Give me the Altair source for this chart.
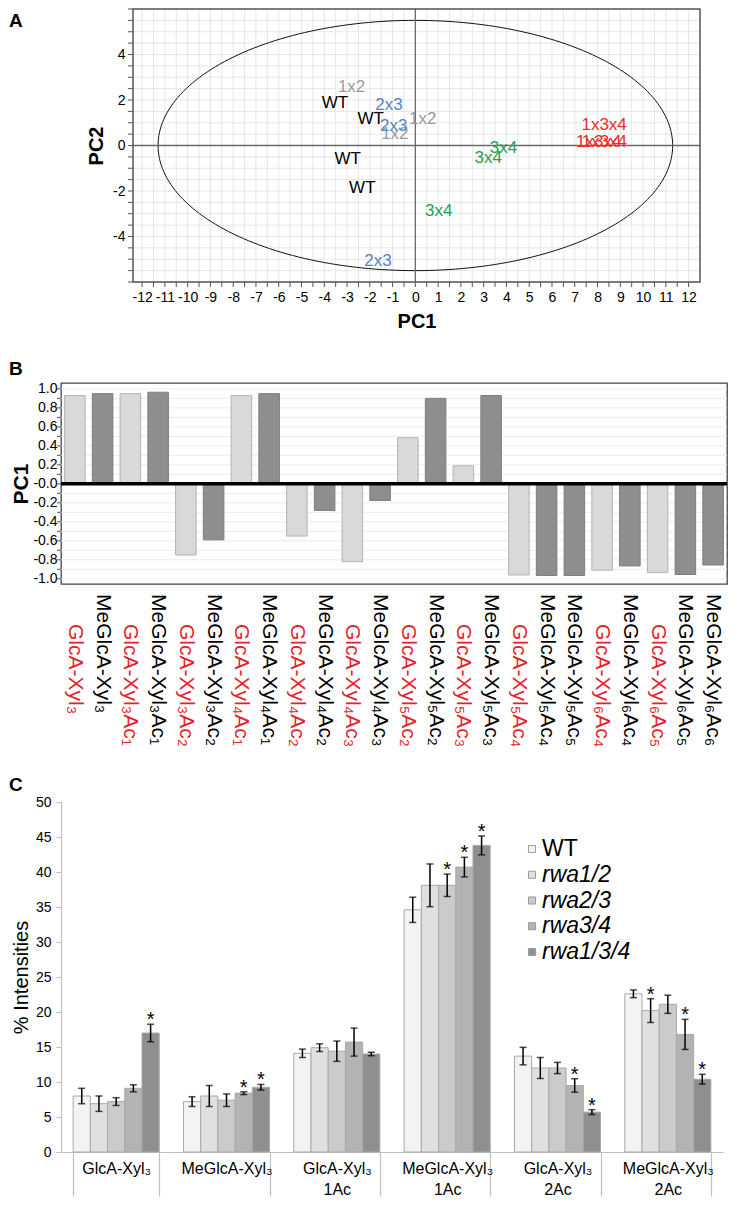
import altair as alt
import numpy as np
import pandas as pd

FONT = "Liberation Sans"

# ---------------- Panel A : PCA scores ----------------
a_labels = ["WT", "WT", "WT", "WT", "1x2", "1x2", "1x2", "2x3", "2x3", "2x3",
            "3x4", "3x4", "3x4", "1x3x4", "1x3x4", "1x3x4"]
a_pc1 = [-3.53, -1.96, -2.97, -2.33, -2.80, 0.32, -0.90, -1.16, -0.95, -1.64,
         3.87, 3.20, 1.03, 8.29, 8.05, 8.30]
a_pc2 = [1.86, 1.16, -0.58, -1.89, 2.55, 1.18, 0.52, 1.76, 0.84, -5.09,
         -0.13, -0.54, -2.87, 0.89, 0.15, 0.15]
a_groups = ["WT", "1x2", "2x3", "3x4", "1x3x4"]
a_colors = ["#000000", "#9b9b9b", "#4f86c6", "#22a24f", "#ee2b2b"]
ellipse_rx = 11.3
ellipse_ry = 5.5
a_xdom = [-12.4, 12.5]
a_ydom = [-6.0, 6.0]
a_xticks = [float(v) for v in np.arange(-12, 12.01, 0.5)]
a_yticks = [float(v) for v in np.arange(-6, 6.01, 0.5)]
a_xlabels = list(range(-12, 13))
a_ylabels = [-4, -2, 0, 2, 4]

# ---------------- Panel B : PC1 loadings ----------------
b_names = ["GlcA-Xyl₃", "MeGlcA-Xyl₃", "GlcA-Xyl₃Ac₁", "MeGlcA-Xyl₃Ac₁",
           "GlcA-Xyl₃Ac₂", "MeGlcA-Xyl₃Ac₂", "GlcA-Xyl₄Ac₁", "MeGlcA-Xyl₄Ac₁",
           "GlcA-Xyl₄Ac₂", "MeGlcA-Xyl₄Ac₂", "GlcA-Xyl₄Ac₃", "MeGlcA-Xyl₄Ac₃",
           "GlcA-Xyl₅Ac₂", "MeGlcA-Xyl₅Ac₂", "GlcA-Xyl₅Ac₃", "MeGlcA-Xyl₅Ac₃",
           "GlcA-Xyl₅Ac₄", "MeGlcA-Xyl₅Ac₄", "MeGlcA-Xyl₅Ac₅", "GlcA-Xyl₆Ac₄",
           "MeGlcA-Xyl₆Ac₄", "GlcA-Xyl₆Ac₅", "MeGlcA-Xyl₆Ac₅", "MeGlcA-Xyl₆Ac₆"]
b_loadings = [0.93, 0.95, 0.95, 0.965, -0.75, -0.59, 0.93, 0.95,
              -0.55, -0.28, -0.82, -0.175, 0.485, 0.90, 0.19, 0.93,
              -0.96, -0.965, -0.965, -0.91, -0.865, -0.935, -0.955, -0.855]
b_kinds = ["GlcA", "MeGlcA"]
b_fill = ["#d9d9d9", "#8e8e8e"]
b_stroke = ["#b3b3b3", "#7d7d7d"]
b_ticks = [round(float(v), 1) for v in np.arange(-1.0, 1.001, 0.1)]
b_labels = [round(float(v), 1) for v in np.arange(-1.0, 1.001, 0.2)]

# ---------------- Panel C : intensities ----------------
c_cats = ["GlcA-Xyl₃", "MeGlcA-Xyl₃", "GlcA-Xyl₃ 1Ac", "MeGlcA-Xyl₃ 1Ac",
          "GlcA-Xyl₃ 2Ac", "MeGlcA-Xyl₃ 2Ac"]
c_series = ["WT", "rwa1/2", "rwa2/3", "rwa3/4", "rwa1/3/4"]
c_fill = ["#f3f3f3", "#e0e0e0", "#cbcbcb", "#b3b3b3", "#8f8f8f"]
c_mean = {
    "WT":       [8.0, 7.2, 14.1, 34.6, 13.7, 22.6],
    "rwa1/2":   [6.9, 8.0, 14.9, 38.1, 12.0, 20.2],
    "rwa2/3":   [7.2, 7.4, 14.4, 38.1, 12.0, 21.1],
    "rwa3/4":   [9.1, 8.4, 15.7, 40.7, 9.5, 16.8],
    "rwa1/3/4": [17.0, 9.25, 14.0, 43.8, 5.7, 10.4],
}
c_err = {
    "WT":       [1.1, 0.7, 0.6, 1.8, 1.25, 0.55],
    "rwa1/2":   [1.1, 1.5, 0.55, 3.05, 1.5, 1.7],
    "rwa2/3":   [0.55, 0.9, 1.45, 1.6, 0.8, 1.3],
    "rwa3/4":   [0.5, 0.2, 2.0, 1.4, 0.95, 2.15],
    "rwa1/3/4": [1.25, 0.4, 0.25, 1.35, 0.35, 0.7],
}
c_star = {
    "WT":       [0, 0, 0, 0, 0, 0],
    "rwa1/2":   [0, 0, 0, 0, 0, 1],
    "rwa2/3":   [0, 0, 0, 1, 0, 0],
    "rwa3/4":   [0, 1, 0, 1, 1, 1],
    "rwa1/3/4": [1, 1, 0, 1, 1, 1],
}

# ======================= Panel A =======================
WA, HA = 639, 273      # full cell width (shared left edge with panels B, C)
A_LEFT = 72            # frame starts here inside the cell
a_df = pd.DataFrame({"pc1": a_pc1, "pc2": a_pc2, "grp": a_labels})
theta = np.linspace(0, 2 * np.pi, 241)
ell_df = pd.DataFrame({"pc1": ellipse_rx * np.cos(theta),
                       "pc2": ellipse_ry * np.sin(theta),
                       "i": np.arange(241)})
zero_df = pd.DataFrame({"v": [0.0]})
axdf = pd.DataFrame({"v": a_xticks})
aydf = pd.DataFrame({"v": a_yticks})

sxA = alt.Scale(domain=a_xdom, nice=False, zero=False, range=[A_LEFT, WA])
syA = alt.Scale(domain=a_ydom, nice=False, zero=False)
xA = alt.X("pc1:Q", scale=sxA,
           axis=alt.Axis(values=a_xlabels, tickCount=200, labelExpr="'' + datum.value",
                         labelFontSize=14, labelOverlap=False, labelFlush=False,
                         labelPadding=8, ticks=False, domain=False, grid=False,
                         title="PC1", titleFontSize=20, titleFontWeight="bold",
                         titlePadding=7))
yA = alt.Y("pc2:Q", scale=syA,
           axis=alt.Axis(values=a_ylabels, tickCount=200, labelExpr="'' + datum.value",
                         labelFontSize=14, labelOverlap=False, labelFlush=False,
                         labelPadding=8, ticks=False, domain=False, grid=False,
                         offset=-A_LEFT, title="PC2", titleFontSize=20,
                         titleFontWeight="bold", titlePadding=6))

gridXA = alt.Chart(axdf).mark_rule(color="#e6e6e6", strokeWidth=1).encode(x=alt.X("v:Q", scale=sxA))
gridYA = alt.Chart(aydf).mark_rule(color="#e6e6e6", strokeWidth=1).encode(
    y=alt.Y("v:Q", scale=syA), x=alt.datum(a_xdom[0]), x2=alt.datum(a_xdom[1]))
tickXA = alt.Chart(axdf).mark_rule(color="#555", strokeWidth=1).encode(
    x=alt.X("v:Q", scale=sxA), y=alt.value(HA), y2=alt.value(HA + 5))
tickYA = alt.Chart(aydf).mark_rule(color="#555", strokeWidth=1).encode(
    y=alt.Y("v:Q", scale=syA), x=alt.value(A_LEFT - 5), x2=alt.value(A_LEFT))
ell = alt.Chart(ell_df).mark_line(color="#111", strokeWidth=1).encode(x=xA, y=yA, order="i:Q")
rx0 = alt.Chart(zero_df).mark_rule(color="#6b6b6b", strokeWidth=1.3).encode(x=alt.X("v:Q", scale=sxA))
ry0 = alt.Chart(zero_df).mark_rule(color="#6b6b6b", strokeWidth=1.3).encode(
    y=alt.Y("v:Q", scale=syA), x=alt.datum(a_xdom[0]), x2=alt.datum(a_xdom[1]))
txtA = alt.Chart(a_df).mark_text(fontSize=17).encode(
    x="pc1:Q", y="pc2:Q", text="grp:N",
    color=alt.Color("grp:N", scale=alt.Scale(domain=a_groups, range=a_colors), legend=None))
frameA = alt.Chart(zero_df).mark_rect(fillOpacity=0, stroke="#555", strokeWidth=1.5).encode(
    x=alt.datum(a_xdom[0]), x2=alt.datum(a_xdom[1]), y=alt.datum(a_ydom[0]), y2=alt.datum(a_ydom[1]))
letA = alt.Chart(pd.DataFrame({"t": ["A"]})).mark_text(
    fontSize=19, fontWeight="bold", align="left", baseline="top").encode(
    text="t:N", x=alt.value(-52), y=alt.value(3))
panelA = alt.layer(gridXA, gridYA, tickXA, tickYA, ell, rx0, ry0, txtA, frameA, letA).properties(
    width=WA, height=HA, view=alt.ViewBackground(stroke=None))

# ======================= Panel B =======================
WB, HB = 666, 201
b_df = pd.DataFrame({"name": b_names, "pc1": b_loadings,
                     "kind": ["MeGlcA" if n.startswith("Me") else "GlcA" for n in b_names]})
bt_df = pd.DataFrame({"v": b_ticks})
syB = alt.Scale(domain=[-1.055, 1.062], nice=False, zero=False)
xB = alt.X("name:N", sort=b_names, scale=alt.Scale(paddingInner=0.26, paddingOuter=0.13), axis=None)
yB = alt.Y("pc1:Q", scale=syB,
           axis=alt.Axis(values=b_labels, tickCount=200,
                         labelExpr="abs(datum.value) < 1e-9 ? '-0.0' : ((datum.value < 0 ? '-' : '') + format(abs(datum.value), '.1f'))",
                         labelFontSize=14, labelOverlap=False, labelFlush=False, labelPadding=4,
                         ticks=False, domain=False, grid=False, title="PC1", titleFontSize=21,
                         titleFontWeight="bold", titlePadding=1))
gridB = alt.Chart(bt_df).mark_rule(color="#ececec", strokeWidth=1).encode(y=alt.Y("v:Q", scale=syB))
tickB = alt.Chart(bt_df).mark_rule(color="#555", strokeWidth=1).encode(
    y=alt.Y("v:Q", scale=syB), x=alt.value(-4), x2=alt.value(0))
barsB = alt.Chart(b_df).mark_bar(strokeWidth=1).encode(
    x=xB, y=yB,
    fill=alt.Fill("kind:N", scale=alt.Scale(domain=b_kinds, range=b_fill), legend=None),
    stroke=alt.Stroke("kind:N", scale=alt.Scale(domain=b_kinds, range=b_stroke), legend=None))
zeroB = alt.Chart(zero_df).mark_rule(color="#000", strokeWidth=3.5).encode(y=alt.Y("v:Q", scale=syB))
labBlack = alt.Chart(b_df).transform_filter("datum.kind === 'MeGlcA'").mark_text(
    angle=90, align="left", baseline="middle", fontSize=21, color="#000").encode(
    x=alt.X("name:N", sort=b_names), text="name:N", y=alt.value(HB + 10))
labRed = alt.Chart(b_df).transform_filter("datum.kind === 'GlcA'").mark_text(
    angle=90, align="left", baseline="middle", fontSize=21, color="#e3232a").encode(
    x=alt.X("name:N", sort=b_names), text="name:N", y=alt.value(HB + 40))
letB = alt.Chart(pd.DataFrame({"t": ["B"]})).mark_text(
    fontSize=19, fontWeight="bold", align="left", baseline="top").encode(
    text="t:N", x=alt.value(-52), y=alt.value(-23))
panelB = alt.layer(gridB, tickB, barsB, zeroB, labBlack, labRed, letB).properties(
    width=WB, height=HB, view=alt.ViewBackground(stroke="#444", strokeWidth=1.3))

# ======================= Panel C =======================
WC, HC = 662, 350
rows = []
for s in c_series:
    for i, c in enumerate(c_cats):
        m, e = c_mean[s][i], c_err[s][i]
        rows.append({"cat": c, "series": s, "mean": m, "lo": m - e, "hi": m + e,
                     "star": c_star[s][i]})
c_df = pd.DataFrame(rows)

xC = alt.X("cat:N", sort=c_cats, scale=alt.Scale(paddingInner=0.22, paddingOuter=0.11),
           axis=alt.Axis(title=None, labelExpr="split(datum.label, ' ')", labelAngle=0,
                         labelFontSize=16, labelLineHeight=21, labelBaseline="top",
                         tickBand="extent", tickSize=44, tickColor="#c0c0c0", tickWidth=1.2,
                         domainColor="#c0c0c0", domainWidth=1.2, labelPadding=-36))
xoC = alt.XOffset("series:N", sort=c_series, scale=alt.Scale(paddingInner=0, paddingOuter=0))
yScaleC = alt.Scale(domain=[0, 50], nice=False)
fillC = alt.Fill("series:N", scale=alt.Scale(domain=c_series, range=c_fill), legend=None)

barsC = alt.Chart(c_df).mark_bar(stroke="#a9a9a9", strokeWidth=1).encode(
    x=xC, xOffset=xoC,
    y=alt.Y("mean:Q", scale=yScaleC,
            axis=alt.Axis(values=list(range(0, 51, 5)), tickCount=200, format="d",
                          title="% Intensities", titleFontSize=20, titleFontWeight="normal",
                          titlePadding=4, labelFontSize=14, labelPadding=5, tickSize=5,
                          tickColor="#c0c0c0", domainColor="#c0c0c0", domainWidth=1.2,
                          grid=False, labelOverlap=False)),
    fill=fillC)
errC = alt.Chart(c_df).mark_rule(color="#000", strokeWidth=1.5).encode(
    x=xC, xOffset=xoC, y=alt.Y("lo:Q", scale=yScaleC), y2="hi:Q")
capLo = alt.Chart(c_df).mark_tick(color="#000", thickness=1.5, size=7).encode(
    x=xC, xOffset=xoC, y=alt.Y("lo:Q", scale=yScaleC))
capHi = alt.Chart(c_df).mark_tick(color="#000", thickness=1.5, size=7).encode(
    x=xC, xOffset=xoC, y=alt.Y("hi:Q", scale=yScaleC))
starC = alt.Chart(c_df).transform_filter("datum.star === 1").mark_text(
    text="*", fontSize=20, baseline="alphabetic", dy=2).encode(
    x=xC, xOffset=xoC, y=alt.Y("hi:Q", scale=yScaleC))
letC = alt.Chart(pd.DataFrame({"t": ["C"]})).mark_text(
    fontSize=19, fontWeight="bold", align="left", baseline="top").encode(
    text="t:N", x=alt.value(-52), y=alt.value(-26))
dataC = alt.layer(barsC, errC, capLo, capHi, starC, letC)

leg_df = pd.DataFrame({"series": c_series, "italic": [0, 1, 1, 1, 1]})
yLeg = alt.Y("series:N", sort=c_series, axis=None,
             scale=alt.Scale(type="point", range=[47, 150], padding=0))
legSq = alt.Chart(leg_df).mark_square(size=50, stroke="#9a9a9a", strokeWidth=1, opacity=1).encode(
    x=alt.value(471), y=yLeg, fill=fillC)
legT1 = alt.Chart(leg_df).transform_filter("datum.italic === 0").mark_text(
    align="left", baseline="middle", fontSize=23).encode(x=alt.value(481), y=yLeg, text="series:N")
legT2 = alt.Chart(leg_df).transform_filter("datum.italic === 1").mark_text(
    align="left", baseline="middle", fontSize=23, fontStyle="italic").encode(
    x=alt.value(481), y=yLeg, text="series:N")
legendC = alt.layer(legSq, legT1, legT2)

panelC = alt.layer(dataC, legendC).resolve_scale(y="independent").properties(
    width=WC, height=HC, view=alt.ViewBackground(stroke=None))

chart = alt.vconcat(panelA, panelB, panelC, spacing=28).properties(
    padding=0).resolve_scale(color="independent", fill="independent", stroke="independent"
).configure(font=FONT).configure_view(stroke=None)

chart.save("out.html", embed_options={"renderer": "svg", "actions": False})
